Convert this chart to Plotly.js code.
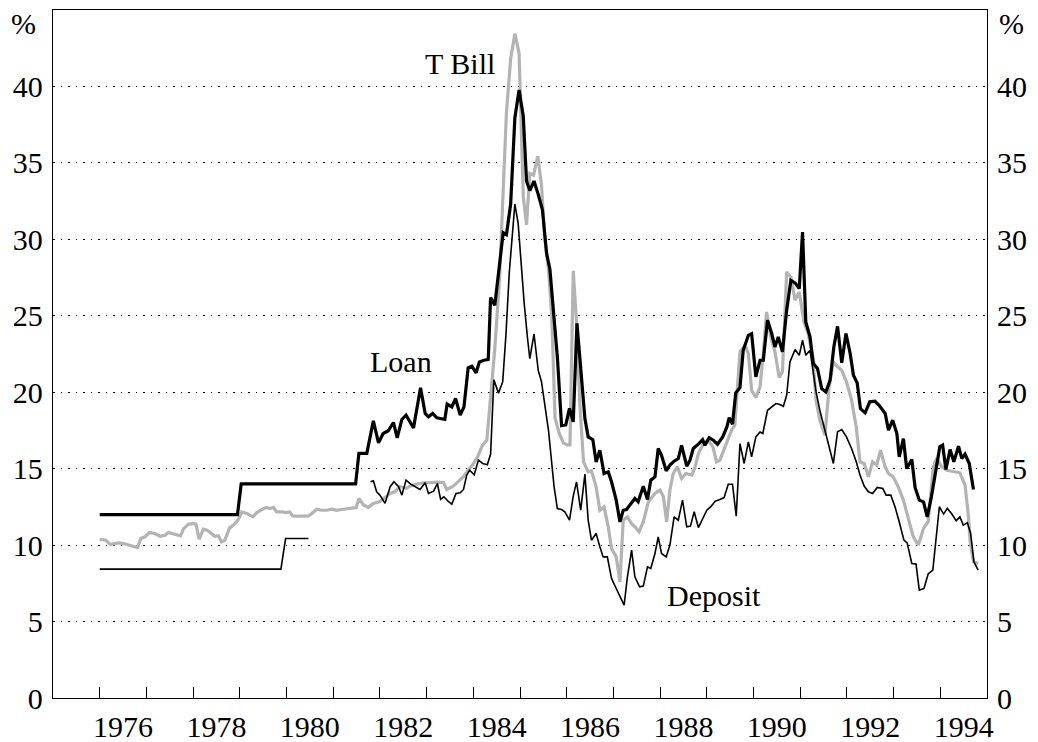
<!DOCTYPE html>
<html>
<head>
<meta charset="utf-8">
<script src="https://cdn.plot.ly/plotly-3.0.1.min.js"></script>
<style>html,body{margin:0;padding:0;background:#fff;}#chart{width:1038px;height:742px;}</style>
</head>
<body>
<div id="chart"></div>
<script>
// ---- Data (decimal years, percent) ----
const loanDates = [1976.00,1978.95,1979.03,1981.48,1981.55,1981.72,1981.86,1981.97,1982.07,1982.18,1982.29,1982.37,1982.47,1982.56,1982.72,1982.87,1982.97,1983.04,1983.13,1983.22,1983.39,1983.44,1983.54,1983.62,1983.72,1983.80,1983.89,1983.97,1984.06,1984.13,1984.23,1984.32,1984.37,1984.46,1984.56,1984.64,1984.71,1984.80,1984.89,1984.98,1985.07,1985.14,1985.21,1985.30,1985.39,1985.48,1985.57,1985.64,1985.73,1985.80,1985.89,1985.98,1986.06,1986.14,1986.22,1986.32,1986.39,1986.46,1986.56,1986.63,1986.71,1986.80,1986.89,1986.96,1987.06,1987.14,1987.21,1987.28,1987.37,1987.46,1987.53,1987.64,1987.73,1987.80,1987.89,1987.96,1988.03,1988.13,1988.21,1988.30,1988.39,1988.46,1988.57,1988.64,1988.71,1988.82,1988.91,1988.96,1989.05,1989.14,1989.23,1989.34,1989.43,1989.48,1989.55,1989.62,1989.71,1989.78,1989.89,1989.96,1990.05,1990.14,1990.21,1990.30,1990.39,1990.46,1990.53,1990.62,1990.71,1990.80,1990.89,1990.98,1991.05,1991.12,1991.21,1991.28,1991.37,1991.46,1991.55,1991.64,1991.72,1991.80,1991.89,1991.98,1992.07,1992.14,1992.22,1992.29,1992.39,1992.49,1992.60,1992.69,1992.82,1992.89,1992.98,1993.07,1993.12,1993.21,1993.28,1993.39,1993.46,1993.55,1993.64,1993.72,1993.81,1993.91,1993.99,1994.05,1994.12,1994.21,1994.29,1994.39,1994.46,1994.53,1994.62,1994.71];
const loanRates = [12.0,12.0,14.0,14.0,16.0,16.0,18.13,16.69,17.30,17.48,18.02,17.02,18.22,18.50,17.67,20.29,18.61,18.39,18.61,18.33,18.22,19.22,19.04,19.59,18.50,19.04,21.59,21.70,21.27,21.98,22.09,22.14,26.19,25.69,28.31,30.44,30.31,32.31,37.94,39.76,38.06,33.81,33.19,33.81,32.94,31.94,29.06,28.06,24.81,22.31,17.81,17.86,18.94,18.06,24.50,20.56,18.28,17.08,16.90,15.44,16.21,14.68,14.79,14.14,12.94,11.52,12.28,12.33,12.72,13.05,12.83,13.85,12.98,14.25,14.46,16.32,15.88,14.86,15.23,15.49,15.66,16.53,15.16,15.55,16.32,16.60,16.90,16.53,17.03,16.86,16.60,17.08,17.73,18.34,17.91,19.95,20.30,22.74,23.72,23.83,21.00,22.09,22.09,24.71,23.84,22.96,23.62,22.64,25.36,27.32,27.15,26.78,30.48,24.60,23.62,21.87,21.55,20.24,20.02,20.79,22.96,24.31,21.92,23.84,22.53,21.11,20.61,18.93,18.65,19.37,19.41,19.15,18.61,17.52,18.17,17.30,15.77,16.97,15.01,15.60,13.77,12.94,12.83,11.85,13.16,14.90,16.43,16.54,14.95,16.25,15.45,16.47,15.67,15.95,15.34,13.64];

const tbillDates = [1976.00,1976.13,1976.23,1976.33,1976.40,1976.51,1976.61,1976.72,1976.81,1976.88,1976.97,1977.06,1977.18,1977.29,1977.40,1977.47,1977.58,1977.68,1977.73,1977.80,1977.90,1978.00,1978.06,1978.13,1978.22,1978.30,1978.40,1978.47,1978.54,1978.61,1978.68,1978.78,1978.86,1978.93,1979.00,1979.04,1979.15,1979.28,1979.36,1979.47,1979.57,1979.65,1979.72,1979.79,1979.90,1980.00,1980.07,1980.13,1980.25,1980.36,1980.47,1980.54,1980.65,1980.75,1980.86,1980.97,1981.07,1981.18,1981.29,1981.40,1981.49,1981.55,1981.65,1981.75,1981.86,1981.99,1982.11,1982.22,1982.32,1982.43,1982.57,1982.64,1982.79,1982.93,1983.07,1983.22,1983.36,1983.43,1983.57,1983.68,1983.79,1983.89,1984.00,1984.11,1984.20,1984.29,1984.37,1984.46,1984.56,1984.64,1984.71,1984.80,1984.89,1984.98,1985.04,1985.07,1985.14,1985.21,1985.29,1985.38,1985.46,1985.53,1985.61,1985.68,1985.75,1985.84,1985.93,1986.01,1986.07,1986.14,1986.21,1986.28,1986.36,1986.46,1986.53,1986.63,1986.71,1986.80,1986.89,1986.96,1987.06,1987.14,1987.21,1987.30,1987.39,1987.46,1987.55,1987.64,1987.75,1987.89,1988.00,1988.07,1988.14,1988.21,1988.28,1988.37,1988.46,1988.55,1988.68,1988.75,1988.82,1988.93,1989.03,1989.13,1989.21,1989.28,1989.39,1989.53,1989.60,1989.67,1989.71,1989.82,1989.89,1989.96,1990.05,1990.14,1990.20,1990.28,1990.37,1990.46,1990.55,1990.62,1990.71,1990.80,1990.89,1990.98,1991.08,1991.17,1991.27,1991.34,1991.42,1991.53,1991.62,1991.71,1991.80,1991.89,1991.99,1992.10,1992.20,1992.28,1992.37,1992.46,1992.55,1992.64,1992.72,1992.82,1992.89,1992.99,1993.10,1993.21,1993.32,1993.42,1993.53,1993.64,1993.74,1993.85,1993.92,1994.03,1994.14,1994.28,1994.42,1994.53,1994.60,1994.64,1994.71,1994.81];
const tbillRates = [10.37,10.32,10.04,10.10,10.15,10.10,10.00,9.93,9.84,10.43,10.54,10.82,10.76,10.58,10.65,10.82,10.71,10.61,10.61,11.09,11.37,11.41,11.37,10.39,11.04,10.98,10.71,10.58,10.61,10.21,10.32,11.13,11.30,11.52,11.85,12.17,12.07,11.85,12.11,12.33,12.46,12.39,12.46,12.17,12.17,12.13,12.17,11.91,11.89,11.89,11.91,12.07,12.35,12.28,12.28,12.35,12.28,12.33,12.39,12.44,12.46,13.05,12.62,12.47,12.73,12.84,13.12,13.38,13.49,13.82,13.71,13.86,13.99,14.08,14.08,14.12,14.10,13.64,13.86,14.14,14.47,14.90,15.30,15.90,16.56,16.86,19.81,22.81,27.31,33.06,38.31,41.81,43.44,42.19,36.06,32.81,30.94,34.31,34.19,35.44,33.56,30.06,28.06,25.06,18.31,17.31,16.69,16.56,16.56,27.94,24.56,19.31,15.44,14.79,14.86,13.81,12.28,12.50,11.20,9.78,9.23,7.60,11.63,11.85,11.40,11.20,10.87,11.53,12.83,13.38,13.60,13.16,11.53,13.60,14.68,15.12,14.36,14.68,14.58,15.12,15.99,16.65,16.86,16.43,15.45,15.56,16.43,17.52,17.84,20.57,22.64,23.07,22.53,20.13,19.65,20.35,22.20,25.25,23.62,22.64,20.96,21.33,27.87,27.54,26.01,26.56,24.60,23.84,22.31,19.48,18.17,17.19,20.35,21.98,21.66,21.44,20.68,19.48,17.73,15.45,15.34,14.47,15.45,15.23,16.21,15.12,14.69,14.47,13.81,12.94,11.64,10.55,10.00,11.09,11.53,15.12,15.67,15.12,14.90,14.79,14.73,13.92,11.96,10.22,8.91,8.80];

// Deposit: early segment, gap (null), then continuous series
const depositDates = [1976.00,1979.88,1979.98,1980.47,1981.10,1981.80,1981.86,1981.93,1982.00,1982.11,1982.22,1982.30,1982.40,1982.47,1982.56,1982.66,1982.75,1982.86,1982.97,1983.04,1983.15,1983.23,1983.30,1983.37,1983.47,1983.54,1983.63,1983.72,1983.79,1983.86,1983.92,1984.02,1984.11,1984.20,1984.30,1984.37,1984.44,1984.54,1984.63,1984.70,1984.77,1984.84,1984.89,1984.96,1985.01,1985.09,1985.16,1985.21,1985.30,1985.39,1985.46,1985.53,1985.61,1985.73,1985.80,1985.89,1985.96,1986.06,1986.14,1986.21,1986.30,1986.39,1986.46,1986.53,1986.63,1986.71,1986.78,1986.87,1986.96,1987.06,1987.14,1987.23,1987.30,1987.39,1987.46,1987.56,1987.64,1987.73,1987.80,1987.89,1987.96,1988.03,1988.13,1988.21,1988.30,1988.39,1988.48,1988.57,1988.65,1988.73,1988.82,1988.91,1989.00,1989.08,1989.18,1989.28,1989.37,1989.46,1989.55,1989.63,1989.71,1989.80,1989.89,1989.96,1990.05,1990.14,1990.20,1990.30,1990.39,1990.48,1990.55,1990.64,1990.71,1990.78,1990.89,1990.98,1991.05,1991.12,1991.21,1991.34,1991.42,1991.53,1991.62,1991.71,1991.80,1991.89,1991.99,1992.10,1992.20,1992.28,1992.37,1992.46,1992.55,1992.65,1992.77,1992.84,1992.94,1993.03,1993.12,1993.22,1993.29,1993.39,1993.48,1993.55,1993.65,1993.74,1993.84,1993.92,1993.98,1994.07,1994.15,1994.24,1994.34,1994.42,1994.49,1994.58,1994.65,1994.72,1994.81];
const depositRates = [8.43,8.43,10.43,10.43,null,14.14,14.21,13.49,13.27,12.73,13.82,14.14,13.82,13.27,14.25,13.99,13.82,13.64,14.08,13.38,13.53,14.03,12.99,13.16,12.84,12.68,13.38,13.42,13.64,14.58,14.90,14.60,15.56,15.34,15.26,15.94,20.81,19.94,20.69,23.81,27.81,30.56,32.31,31.06,28.81,25.81,23.56,22.19,23.81,21.44,20.69,19.20,17.51,13.81,12.39,12.33,12.18,11.63,13.20,14.14,12.28,14.64,11.63,10.32,10.76,9.89,9.23,9.23,7.82,7.16,6.62,6.08,7.93,9.67,7.93,7.27,7.32,8.58,8.47,9.45,10.54,9.45,9.23,10.00,11.85,11.63,12.94,11.20,11.24,12.18,11.15,11.74,12.28,12.50,12.87,12.98,13.11,13.98,13.98,11.89,16.64,15.34,16.75,15.77,17.08,17.40,17.30,18.82,19.04,19.26,19.21,19.08,19.80,21.98,22.79,22.42,23.40,22.42,22.75,20.02,18.83,17.52,16.54,15.34,17.41,17.56,17.08,16.32,15.45,14.58,13.86,13.49,13.38,13.77,13.70,13.27,13.27,12.51,11.53,10.33,10.15,8.80,8.76,7.06,7.17,8.11,8.37,10.76,12.51,12.03,12.40,12.07,11.59,11.85,11.31,11.46,10.76,8.91,8.37];

const yTicks = [0,5,10,15,20,25,30,35,40];
const yearTicks = [1976,1977,1978,1979,1980,1981,1982,1983,1984,1985,1986,1987,1988,1989,1990,1991,1992,1993,1994];
const yearLabels = ['1976','1978','1980','1982','1984','1986','1988','1990','1992','1994'];

const FONT = 'Liberation Serif, Times New Roman, serif';
const FS = 30;
const CLEAR = 'rgba(0,0,0,0)';

const traces = [
  {x: tbillDates, y: tbillRates, mode: 'lines', name: 'T Bill',
   line: {color: '#b3b3b3', width: 3.2}, hoverinfo: 'x+y'},
  {x: depositDates, y: depositRates, mode: 'lines', name: 'Deposit', connectgaps: false,
   line: {color: '#000000', width: 1.6}, hoverinfo: 'x+y'},
  {x: loanDates, y: loanRates, mode: 'lines', name: 'Loan',
   line: {color: '#000000', width: 3.2}, hoverinfo: 'x+y'},
  // helpers so the label axes render
  {x: [1985], y: [null], xaxis: 'x2', yaxis: 'y', mode: 'lines', showlegend: false, hoverinfo: 'skip'},
  {x: [1985], y: [null], xaxis: 'x', yaxis: 'y2', mode: 'lines', showlegend: false, hoverinfo: 'skip'}
];

const layout = {
  width: 1038, height: 742,
  margin: {l: 53, r: 51, t: 10, b: 44},
  paper_bgcolor: '#ffffff', plot_bgcolor: '#ffffff',
  showlegend: false,
  font: {family: FONT, size: FS, color: '#000'},
  xaxis: {
    range: [1975, 1995], tickmode: 'array', tickvals: yearTicks,
    ticktext: yearTicks.map(() => ''),
    ticks: 'inside', ticklen: 11, tickwidth: 1, tickcolor: '#000',
    showline: true, linecolor: '#000', linewidth: 1.2, mirror: true,
    showgrid: false, zeroline: false, fixedrange: true
  },
  xaxis2: {
    overlaying: 'x', anchor: 'y', side: 'bottom',
    range: [1975, 1995], tickmode: 'array',
    tickvals: yearLabels.map(s => Number(s) + 0.5), ticktext: yearLabels,
    ticks: 'outside', ticklen: 2, tickcolor: CLEAR,
    showline: false, showgrid: false, zeroline: false,
    tickfont: {family: FONT, size: FS, color: '#000'}, fixedrange: true
  },
  yaxis: {
    range: [0, 45], tickmode: 'array', tickvals: yTicks,
    ticks: 'outside', ticklen: 3, tickcolor: CLEAR,
    showgrid: true, gridcolor: '#000', gridwidth: 1, griddash: '1.5px,6px',
    showline: true, linecolor: '#000', linewidth: 1.2, mirror: true,
    zeroline: false, tickfont: {family: FONT, size: FS, color: '#000'}, fixedrange: true
  },
  yaxis2: {
    overlaying: 'y', side: 'right', anchor: 'x',
    range: [0, 45], tickmode: 'array', tickvals: yTicks,
    ticks: 'outside', ticklen: 3, tickcolor: CLEAR,
    showgrid: false, showline: false, zeroline: false,
    tickfont: {family: FONT, size: FS, color: '#000'}, fixedrange: true
  },
  annotations: [
    {text: 'T Bill', x: 1983.72, y: 41.5, xref: 'x', yref: 'y', showarrow: false, xanchor: 'center', yanchor: 'middle', font: {family: FONT, size: FS, color: '#000'}},
    {text: 'Loan', x: 1982.45, y: 22.0, xref: 'x', yref: 'y', showarrow: false, xanchor: 'center', yanchor: 'middle', font: {family: FONT, size: FS, color: '#000'}},
    {text: 'Deposit', x: 1989.15, y: 6.7, xref: 'x', yref: 'y', showarrow: false, xanchor: 'center', yanchor: 'middle', font: {family: FONT, size: FS, color: '#000'}},
    {text: '%', x: -0.032, y: 0.98, xref: 'paper', yref: 'paper', showarrow: false, xanchor: 'center', yanchor: 'middle', font: {family: FONT, size: FS, color: '#000'}},
    {text: '%', x: 1.0257, y: 0.98, xref: 'paper', yref: 'paper', showarrow: false, xanchor: 'center', yanchor: 'middle', font: {family: FONT, size: FS, color: '#000'}}
  ]
};

Plotly.newPlot('chart', traces, layout, {displayModeBar: false, staticPlot: true});
</script>
</body>
</html>
